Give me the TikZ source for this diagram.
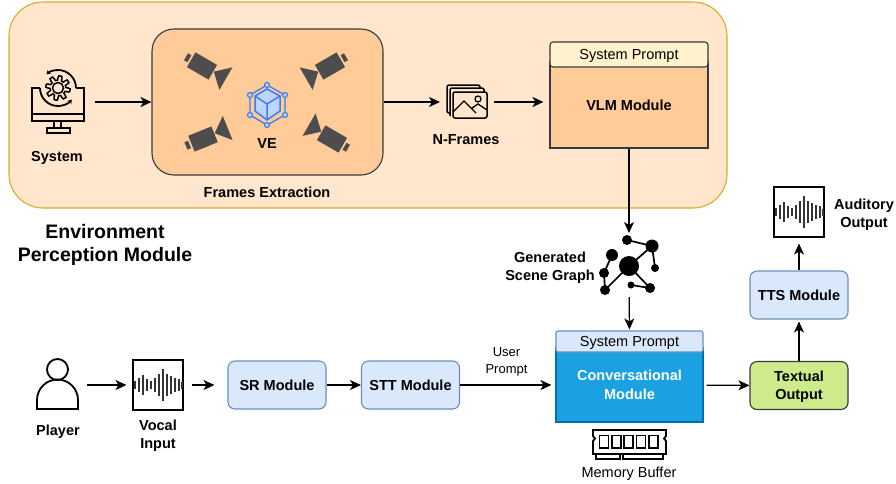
\documentclass[tikz,border=0pt]{standalone}
\usepackage{fontspec}
\usepackage{xcolor}
\setmainfont{Liberation Sans}
\usetikzlibrary{arrows.meta}
\definecolor{envfill}{HTML}{FFE6CC}
\definecolor{envline}{HTML}{DFA92B}
\definecolor{extfill}{HTML}{FFCC99}
\definecolor{darkline}{HTML}{36393D}
\definecolor{camgray}{HTML}{4D4D4D}
\definecolor{vecube}{HTML}{BCD6FF}
\definecolor{veblue}{HTML}{3D7DF2}
\definecolor{promptfill}{HTML}{FFF2CC}
\definecolor{modfill}{HTML}{DAE8FC}
\definecolor{modline}{HTML}{6C8EBF}
\definecolor{convfill}{HTML}{1BA1E2}
\definecolor{convline}{HTML}{006EAF}
\definecolor{textfill}{HTML}{CDEB8B}

\begin{document}
\begin{tikzpicture}[
            x=1pt, y=-1pt,
            label/.style={inner sep=0pt, align=center, font=\fontsize{14.5}{18}\selectfont\bfseries},
            plainlabel/.style={inner sep=0pt, align=center, font=\fontsize{14.5}{17}\selectfont},
            module/.style={rectangle, rounded corners=7pt, draw=modline, fill=modfill, line width=1.1pt,
                minimum width=98pt, minimum height=48pt, inner sep=0pt, align=center,
                font=\fontsize{14.5}{18}\selectfont\bfseries},
            soundbox/.style={rectangle, draw=black, fill=white, line width=1.1pt, minimum size=50pt, inner sep=0pt},
            iconspot/.style={inner sep=0pt, outer sep=0pt},
            flow/.style={-{Stealth[length=11pt, width=10pt, inset=3pt]}, line width=1.2pt},
            icon/.style={line width=1.8pt, draw=black},
            camera/.pic={
                \fill[camgray] (-12.5,-8.5) rectangle (12.5,8.5);
                \fill[camgray] (-18.5,-4) rectangle (-14.5,4);
                \fill[camgray] (13,-1) -- (27,-14) -- (27,12) -- cycle;
            },
            wave/.pic={
                \foreach \px/\bar in {-23/8,-19/14,-15/20,-11/12,-7/8,-3/14,1/22,5/32,9/22,13/18,17/14,21/12,24/7}
                    \draw[line width=1.4pt, black!80] (\px,-\bar/2) -- (\px,\bar/2);
            }
        ]
            \useasboundingbox (0,0) rectangle (896,483);

            % Environment perception
            \node[rectangle, rounded corners=34pt, draw=envline, fill=envfill, line width=1.1pt,
                minimum width=718pt, minimum height=206pt] (env) at (368,105) {};
            \node[rectangle, rounded corners=22pt, draw=darkline, fill=extfill, line width=1.1pt,
                minimum width=231pt, minimum height=146pt] (frames) at (267.5,102) {};
            \node[iconspot, minimum width=74pt, minimum height=66pt] (system) at (58,102) {};
            \node[iconspot, minimum width=54pt, minimum height=34pt] (nframes) at (467,102) {};

            % system icon
            \draw[icon] (40,88) -- (32,88) -- (32,121) -- (84,121) -- (84,88) -- (76,88);
            \draw[icon] (32,114) -- (84,114);
            \draw[icon] (54,121) -- (54,128) (61,121) -- (61,128);
            \draw[icon] (47,128) rectangle (70,133);
            \draw[icon, -{Stealth[length=4pt, width=5pt]}] (58,88) ++(0:18) arc[start angle=0, end angle=-130, radius=18];
            \draw[icon, -{Stealth[length=4pt, width=5pt]}] (58,88) ++(-180:18) arc[start angle=-180, end angle=-320, radius=18];
            \draw[icon, line width=1.5pt, fill=envfill, shift={(58,88)}] plot[domain=0:360, samples=97] (\x:{10+2.2*sign(sin(8*\x))}) -- cycle;
            \draw[icon, line width=1.5pt] (58,88) circle (5.5);

            % cameras and VE
            \pic[rotate=-30] at (202,66) {camera};
            \pic[xscale=-1, rotate=-30] at (330,66) {camera};
            \pic[rotate=22] at (203,139) {camera};
            \pic[xscale=-1, rotate=30] at (332,139) {camera};
            \draw[veblue, line width=1.3pt] (267,85) -- (285,95) -- (285,115) -- (267,125) -- (250,115) -- (250,95) -- cycle;
            \draw[veblue, fill=vecube, line width=1.5pt] (267,89) -- (280,96) -- (280,111) -- (267,120) -- (255,111) -- (255,96) -- cycle;
            \draw[veblue, line width=1.5pt] (255,96) -- (267,104) -- (280,96) (267,104) -- (267,120);
            \foreach \vx/\vy in {267/85,285/95,285/115,267/125,250/115,250/95}
                \draw[veblue, fill=vecube, line width=1.2pt] (\vx,\vy) circle (2.5);

            % frames icon
            \draw[icon, line width=1.5pt, rounded corners=2pt] (453,113) -- (447,113) -- (447,85) -- (480,85) -- (480,92);
            \draw[icon, line width=1.5pt, rounded corners=2pt, fill=envfill] (450,116) -- (450,88) -- (484,88) -- (484,92);
            \draw[icon, line width=1.5pt, rounded corners=2pt, fill=envfill] (453,92) rectangle (487,118);
            \draw[line width=1.3pt] (453,112) -- (464,101) -- (476,113) (472,108) -- (478,104) -- (487,110);
            \draw[line width=1.3pt] (478,99) circle (3);

            % VLM
            \node[rectangle, draw=darkline, fill=extfill, line width=1.1pt, minimum width=158pt, minimum height=86pt,
                inner sep=0pt, font=\fontsize{14.5}{18}\selectfont\bfseries] (vlm) at (629,105) {VLM Module};
            \node[rectangle, rounded corners=3pt, draw=darkline, fill=promptfill, line width=1.1pt, minimum width=158pt,
                minimum height=25pt, inner sep=0pt, text depth=0pt, font=\fontsize{14.5}{17}\selectfont] (vlmprompt) at (629,54.5) {System Prompt};

            \node[label] (systemlabel) at (57,158) {System};
            \node[label] (velabel) at (267,144) {VE};
            \node[label] (frameslabel) at (267,192) {Frames Extraction};
            \node[label] (nframeslabel) at (466,140) {N-Frames};
            \node[inner sep=0pt, align=center, font=\fontsize{19.5}{23}\selectfont\bfseries] (envlabel) at (105,245) {Environment\\Perception Module};

            \draw[flow] (system) -- (frames);
            \draw[flow] (frames) -- (nframes);
            \draw[flow, shorten >=6pt] (nframes) -- (nframes -| vlm.west);

            % scene graph
            \node[iconspot, minimum width=64pt, minimum height=64pt] (scene) at (629,265) {};
            \draw[line width=1.7pt] (627,240) -- (652,246) -- (629,266) (652,246) -- (655,268)
                (612,255) -- (604,273) -- (605,290) -- (629,266) -- (650,288) -- (631,285);
            \foreach \sx/\sy/\sr in {627/240/5,652/246/6.5,612/255/6,629/266/10,655/268/4,604/273/5,605/290/5,631/285/3.5,650/288/5}
                \fill (\sx,\sy) circle (\sr);
            \node[label] (scenelabel) at (550,268) {Generated\\Scene Graph};

            % conversational
            \node[rectangle, draw=convline, fill=convfill, line width=1.1pt, minimum width=147pt, minimum height=74pt,
                inner sep=0pt, align=center, text=white, font=\fontsize{14.5}{19}\selectfont\bfseries] (conv) at (629.5,385) {Conversational\\Module};
            \node[rectangle, rounded corners=2pt, draw=modline, fill=modfill, line width=1.1pt, minimum width=147pt, minimum height=21pt,
                inner sep=0pt, text depth=0pt, font=\fontsize{14.5}{17}\selectfont] (convprompt) at (629.5,341.5) {System Prompt};
            \draw[flow] (vlm) -- (scene);
            \draw[flow, shorten >=1pt] (scene) -- (convprompt);

            % memory icon
            \draw[icon] (593,430) -- (666,430) -- (666,436) -- (664,438.5) -- (666,441) -- (666,454) -- (593,454) -- (593,441) -- (595,438.5) -- (593,436) -- cycle;
            \foreach \cx in {599.5,611.8,624.1,636.4,648.7}
                \draw[icon] (\cx,435.5) rectangle ++(9,12.5);
            \draw[icon, line width=1.5pt] (596,454) -- (596,459) -- (620,459) -- (620,454) (623,454) -- (623,459) -- (663,459) -- (663,454);
            \node[plainlabel] (memlabel) at (629,473.5) {Memory Buffer};

            % input chain
            \node[iconspot, minimum width=58pt, minimum height=50pt] (player) at (58,385) {};
            \draw[icon] (57.5,369.5) circle (10.5);
            \draw[icon] (37,409) -- (37,400) arc[start angle=180, end angle=360, radius=20.5] -- (78,409) -- cycle;
            \node[soundbox] (vocal) at (158,385) {};
            \pic at (158,385) {wave};
            \node[module] (sr) at (277,385) {SR Module};
            \node[module] (stt) at (410.5,385) {STT Module};
            \node[label] (playerlabel) at (58,432) {Player};
            \node[label] (vocallabel) at (158,436) {Vocal\\Input};
            \node[plainlabel, font=\fontsize{13}{17}\selectfont] (userlabel) at (506.5,361.5) {User\\Prompt};

            \draw[flow, shorten >=6pt] (player) -- (vocal);
            \draw[flow, shorten <=8pt, shorten >=13pt] (vocal) -- (sr);
            \draw[flow] (sr) -- (stt);
            \draw[flow, shorten >=4pt] (stt) -- (conv);

            % output chain
            \node[module, draw=darkline, fill=textfill, text depth=0pt] (textual) at (799,385.5) {Textual\\Output};
            \node[module] (tts) at (799,295) {TTS Module};
            \node[soundbox] (audio) at (799,212) {};
            \pic at (799,212) {wave};
            \node[label] (audiolabel) at (864,215) {Auditory\\Output};

            \draw[flow, shorten <=3pt] (conv) -- (textual);
            \draw[flow, shorten >=2pt] (textual) -- (tts);
            \draw[flow, shorten >=6pt] (tts) -- (audio);
        \end{tikzpicture}
\end{document}
